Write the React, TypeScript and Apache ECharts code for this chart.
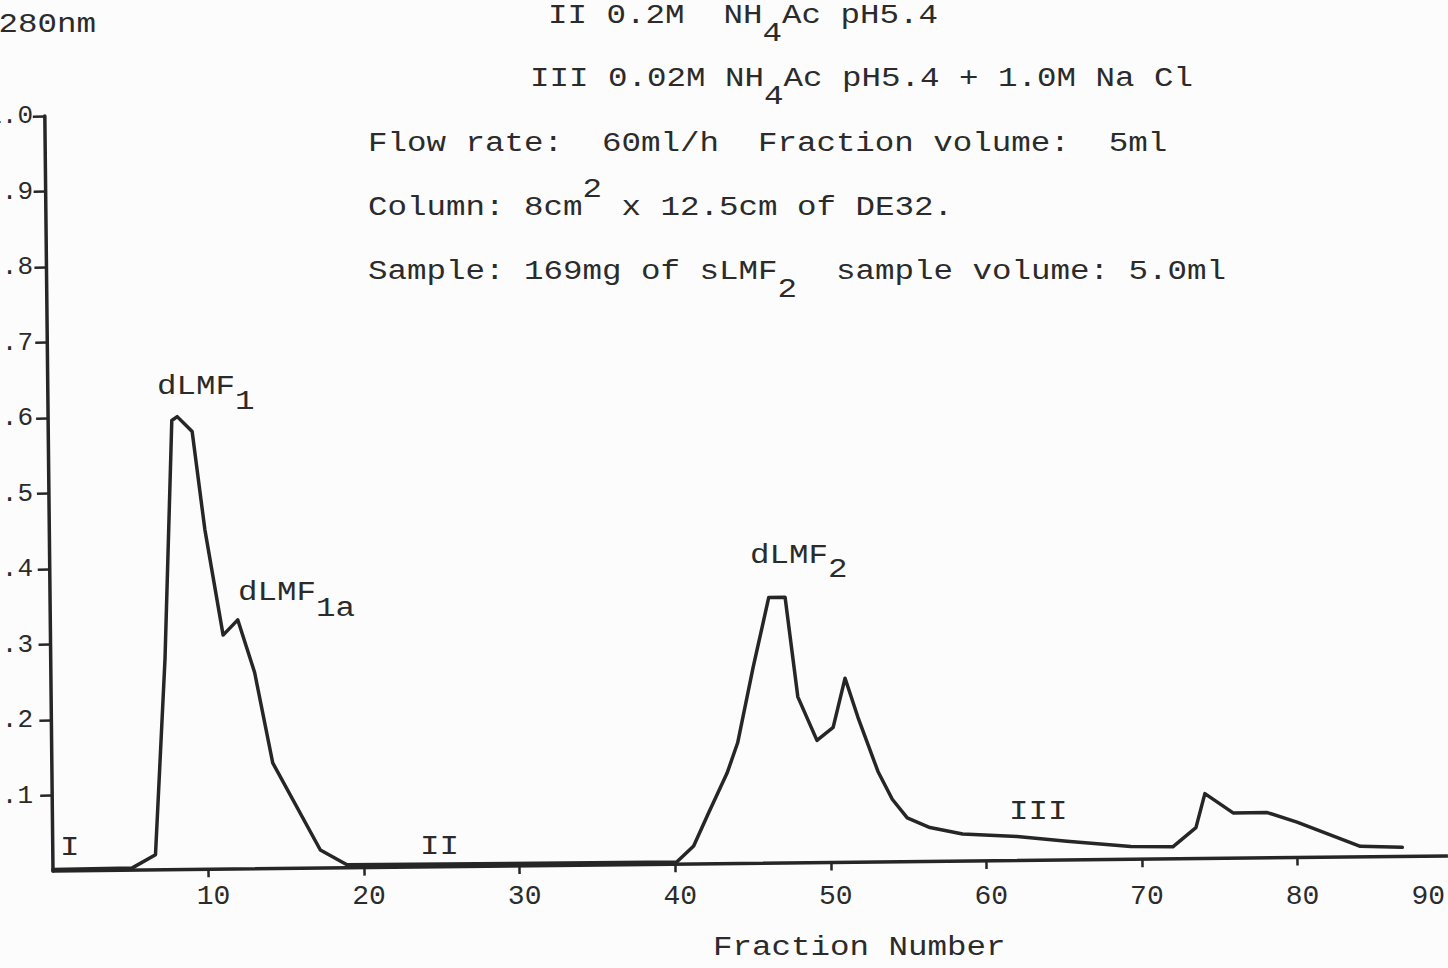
import React, { useEffect, useRef } from "react";
import * as echarts from "echarts";

// ---- data (fraction number vs A280nm) ----
const fractionNumber = [
  0, 5.1, 6.6, 7.35, 7.95, 8.3, 9.25, 10.0, 11.1, 12.05, 13.1, 14.2, 17.2, 18.9,
  40.1, 41.2, 42.15, 43.4, 44.1, 45.15, 46.2, 47.25, 48.0, 49.2, 50.25, 51.05, 51.85, 53.1, 54.0, 54.95, 56.4, 58.5,
  62.0, 65.2, 69.3, 72.0, 73.5, 74.1, 75.9, 78.1, 80.0, 84.05, 86.75,
];
const a280 = [
  0.002, 0.003, 0.02, 0.28, 0.595, 0.6, 0.58, 0.45, 0.31, 0.33, 0.26, 0.14, 0.024, 0.004,
  0.003, 0.024, 0.066, 0.12, 0.16, 0.26, 0.352, 0.352, 0.22, 0.162, 0.179, 0.244, 0.192, 0.12, 0.083, 0.058, 0.045, 0.036,
  0.032, 0.025, 0.017, 0.016, 0.041, 0.086, 0.06, 0.06, 0.047, 0.014, 0.012,
];
const xTickValues = [10, 20, 30, 40, 50, 60, 70, 80, 90];
const yTickValues = [0.1, 0.2, 0.3, 0.4, 0.5, 0.6, 0.7, 0.8, 0.9, 1.0];
const X_MIN = 0, X_MAX = 90, X_STEP = 10;
const Y_MIN = 0, Y_MAX = 1.0, Y_STEP = 0.1;

// ---- typed texts (content) ----
type Part = [string, "n" | "sub" | "sup"];
const yAxisTitle: Part[] = [["A280nm", "n"]];
const xAxisTitle: Part[] = [["Fraction Number", "n"]];
const headerLines: Part[][] = [
  [["II 0.2M  NH", "n"], ["4", "sub"], ["Ac pH5.4", "n"]],
  [["III 0.02M NH", "n"], ["4", "sub"], ["Ac pH5.4 + 1.0M Na Cl", "n"]],
  [["Flow rate:  60ml/h  Fraction volume:  5ml", "n"]],
  [["Column: 8cm", "n"], ["2", "sup"], [" x 12.5cm of DE32.", "n"]],
  [["Sample: 169mg of sLMF", "n"], ["2", "sub"], ["  sample volume: 5.0ml", "n"]],
];
const peakLabels: Part[][] = [
  [["dLMF", "n"], ["1", "sub"]],
  [["dLMF", "n"], ["1a", "sub"]],
  [["dLMF", "n"], ["2", "sub"]],
];
const bufferLabels: Part[][] = [[["I", "n"]], [["II", "n"]], [["III", "n"]]];

// ---- layout / style ----
const headerPos = [[548, 16], [530, 79], [368, 144], [368, 208], [368, 272]];
const peakPos = [[157, 387, 15], [238, 593, 16], [750, 556, 14]];
const bufferPos = [[60, 848], [420, 847], [1009, 812]];
const GRID = { left: 53, top: 116, width: 1400, height: 755, containLabel: false, outerBoundsMode: "none" };
const FF = "'Liberation Mono', 'Courier New', monospace";
const FS = 32.5;
const SQUASH = 0.84;
const INK = "#262626";
const TEXT_INK = "#2b2b2b";
const PAPER = "#fcfcfc";

function typed(x: number, y: number, parts: Part[], shift = 18, size = FS) {
  const p = (2 * shift) / SQUASH;
  const lh = 26;
  return {
    type: "text",
    x,
    y,
    scaleY: SQUASH,
    silent: true,
    style: {
      text: parts.map(([t, k]) => `{${k}|${t}}`).join(""),
      fill: TEXT_INK,
      font: `${size}px ${FF}`,
      align: "left",
      verticalAlign: "middle",
      lineHeight: lh,
      rich: {
        n: { fontSize: size, fontFamily: FF, lineHeight: lh },
        sub: { fontSize: size, fontFamily: FF, lineHeight: lh, padding: [p, 0, 0, 0] },
        sup: { fontSize: size, fontFamily: FF, lineHeight: lh, padding: [0, 0, p, 0] },
      },
    },
  };
}

export default function App() {
  const refA = useRef<HTMLDivElement>(null);
  const refB = useRef<HTMLDivElement>(null);

  useEffect(() => {
    if (!refA.current || !refB.current) return;
    const chartA = echarts.init(refA.current, undefined, { renderer: "svg" });
    const chartB = echarts.init(refB.current, undefined, { renderer: "svg" });

    const pairs = fractionNumber.map((f, i) => [f, a280[i]]);
    const axisBase = {
      type: "value" as const,
      splitLine: { show: false },
    };

    // hand-drawn axes and trace (slightly rotated like the scan)
    chartA.setOption({
      animation: false,
      backgroundColor: "transparent",
      grid: GRID,
      xAxis: {
        ...axisBase,
        min: X_MIN,
        max: X_MAX,
        interval: X_STEP,
        axisLine: { show: true, lineStyle: { color: INK, width: 3.5 } },
        axisTick: { show: true, customValues: xTickValues, length: 8, lineStyle: { color: INK, width: 2.5 } },
        axisLabel: { show: false },
      },
      yAxis: {
        ...axisBase,
        min: Y_MIN,
        max: Y_MAX,
        interval: Y_STEP,
        axisLine: { show: true, lineStyle: { color: INK, width: 3.5 } },
        axisTick: { show: true, customValues: yTickValues, length: 12, lineStyle: { color: INK, width: 2.5 } },
        axisLabel: { show: false },
      },
      series: [
        {
          type: "line",
          data: pairs,
          symbol: "none",
          showSymbol: false,
          clip: false,
          lineStyle: { color: INK, width: 3.5, join: "round", cap: "round" },
        },
      ],
    });

    // typed labels (horizontal)
    const labelStyle = { fontFamily: FF, fontSize: 28, color: TEXT_INK };
    chartB.setOption({
      animation: false,
      backgroundColor: "transparent",
      grid: GRID,
      xAxis: {
        ...axisBase,
        min: X_MIN,
        max: X_MAX,
        interval: X_STEP,
        axisLine: { show: false },
        axisTick: { show: false },
        axisLabel: {
          ...labelStyle,
          show: true,
          customValues: xTickValues,
          margin: 11,
          hideOverlap: false,
          alignMaxLabel: "right",
          formatter: (v: number) => (v === X_MAX ? `{e|${v}}` : `{n|${v}}`),
          rich: {
            n: { ...labelStyle, padding: [0, 0, 0, 10] },
            e: { ...labelStyle, padding: [0, 8, 0, 0] },
          },
        },
      },
      yAxis: {
        ...axisBase,
        min: Y_MIN,
        max: Y_MAX,
        interval: Y_STEP,
        axisLine: { show: false },
        axisTick: { show: false },
        axisLabel: {
          ...labelStyle,
          fontSize: 26,
          show: true,
          customValues: yTickValues,
          margin: 20,
          // typewriter style: 1.0, .9, .8 ... .1
          formatter: (v: number) => (v >= 1 ? v.toFixed(1) : v.toFixed(1).replace(/^0/, "")),
        },
      },
      graphic: [
        typed(-21, 25, yAxisTitle),
        typed(713, 948, xAxisTitle),
        ...headerLines.map((p, i) => typed(headerPos[i][0], headerPos[i][1], p)),
        ...peakLabels.map((p, i) => typed(peakPos[i][0], peakPos[i][1], p, peakPos[i][2])),
        ...bufferLabels.map((p, i) => typed(bufferPos[i][0], bufferPos[i][1], p)),
      ],
    });

    return () => {
      chartA.dispose();
      chartB.dispose();
    };
  }, []);

  const layer: React.CSSProperties = { position: "absolute", left: 0, top: 0, width: 1448, height: 968 };
  return (
    <div style={{ ...layer, overflow: "hidden", background: PAPER }}>
      <div ref={refA} style={{ ...layer, transform: "rotate(-0.62deg)", transformOrigin: "53px 871px" }} />
      <div ref={refB} style={layer} />
    </div>
  );
}
